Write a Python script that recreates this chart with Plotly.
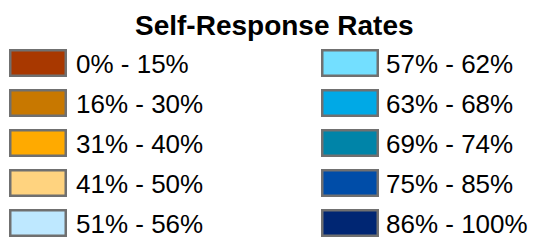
import plotly.graph_objects as go

title_text = "Self-Response Rates"
labels_left = ["0% - 15%", "16% - 30%", "31% - 40%", "41% - 50%", "51% - 56%"]
labels_right = ["57% - 62%", "63% - 68%", "69% - 74%", "75% - 85%", "86% - 100%"]
colors_left = ["#A83800", "#C87800", "#FFAA00", "#FFD37F", "#BEE8FF"]
colors_right = ["#73DFFF", "#00A9E6", "#0084A8", "#004DA8", "#002673"]

W, H = 537, 240
row_top = 63
row_step = 40
line_w = 2.5
sw_len = 58 - line_w
sw_thick = 28 - line_w
col_x = [9 + line_w / 2, 321 + line_w / 2]
text_x = [74, 384]
FONT = "Liberation Sans, Arial, sans-serif"

fig = go.Figure()
annotations = []
for c, (labels, colors) in enumerate([(labels_left, colors_left), (labels_right, colors_right)]):
    ys = [row_top + i * row_step for i in range(len(labels))]
    fig.add_trace(go.Bar(
        orientation="h",
        y=ys,
        x=[sw_len] * len(labels),
        base=[col_x[c]] * len(labels),
        width=sw_thick,
        marker=dict(color=colors, line=dict(color="#707070", width=line_w)),
        hoverinfo="skip",
        showlegend=False,
    ))
    for y, lab in zip(ys, labels):
        annotations.append(dict(
            x=text_x[c], y=y + 1, xref="x", yref="y", text=lab, showarrow=False,
            xanchor="left", yanchor="middle",
            font=dict(family=FONT, size=26, color="#000000"),
        ))

annotations.append(dict(
    x=274, y=25, xref="x", yref="y", text="<b>" + title_text + "</b>", showarrow=False,
    xanchor="center", yanchor="middle",
    font=dict(family=FONT, size=28, color="#000000"),
))

fig.update_layout(
    width=W, height=H,
    margin=dict(l=0, r=0, t=0, b=0),
    paper_bgcolor="white", plot_bgcolor="white",
    xaxis=dict(range=[0, W], visible=False, fixedrange=True),
    yaxis=dict(range=[H, 0], visible=False, fixedrange=True),
    annotations=annotations,
    barmode="overlay",
)
fig.write_html(
    "out.html",
    config={"displayModeBar": False},
    post_script="document.body.style.margin='0';document.body.style.overflow='hidden';",
)
